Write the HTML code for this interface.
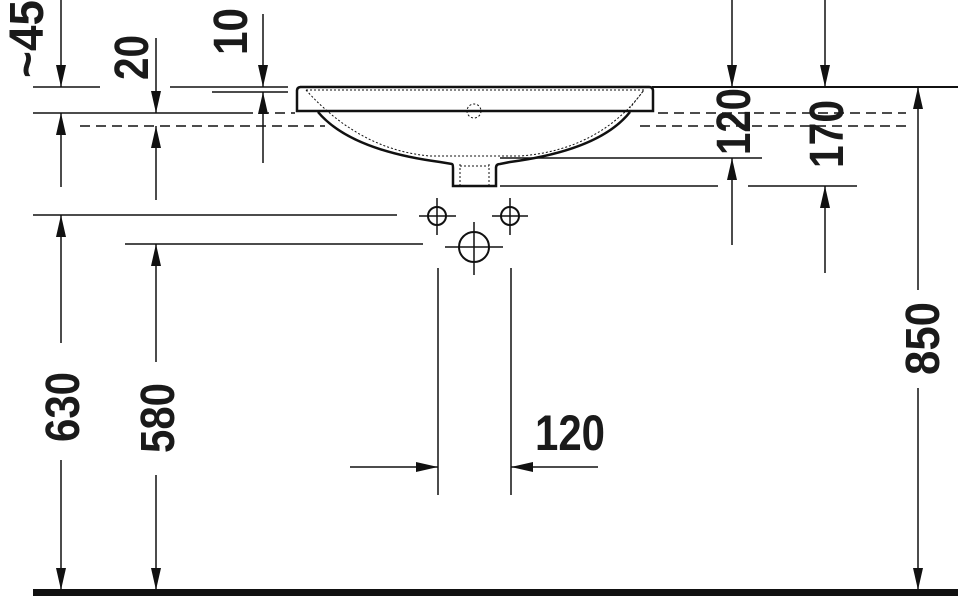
<!DOCTYPE html>
<html><head><meta charset="utf-8"><style>
html,body{margin:0;padding:0;background:#fff;}
svg{display:block}
text{font-family:"Liberation Sans",sans-serif;font-weight:bold;fill:#1a1a1a}
</style></head><body>
<svg width="958" height="596" viewBox="0 0 958 596" xmlns="http://www.w3.org/2000/svg">
<g stroke="#111" stroke-width="1.5" fill="none">
<!-- horizontal reference lines -->
<line x1="33" y1="87" x2="100" y2="87"/>
<line x1="170" y1="87" x2="288" y2="87"/>
<line x1="212" y1="92" x2="288" y2="92"/>
<line x1="652" y1="87" x2="958" y2="87" stroke-width="2"/>
<line x1="33" y1="113" x2="243" y2="113"/>
<line x1="243" y1="113" x2="295" y2="113" stroke-dasharray="10,6"/>
<line x1="80" y1="126" x2="325" y2="126" stroke-dasharray="10,6"/>
<line x1="658" y1="113" x2="906" y2="113" stroke-dasharray="10,6"/>
<line x1="640" y1="126" x2="906" y2="126" stroke-dasharray="10,6"/>
<line x1="500" y1="158" x2="762" y2="158"/>
<line x1="500" y1="186" x2="718" y2="186"/>
<line x1="748" y1="186" x2="857" y2="186"/>
<line x1="33" y1="215" x2="397" y2="215"/>
<line x1="125" y1="244" x2="423" y2="244"/>
<!-- basin -->
<path d="M300 87 H649 Q653 87 653 91 V111 H297 V91 Q297 87 301 87 Z" stroke-width="2.5"/>
<path d="M318 112 Q350 150 440 162 L452 164 Q453 164 453 168 V186 H496 V168 Q496 164 500 164 L510 162 Q600 150 630 112" stroke-width="2.5"/>
<path d="M306 90 H644 L630 108 M306 90 Q360 150 430 156 H520 Q600 150 644 90" stroke-width="1" stroke-dasharray="2,2"/>
<path d="M460 164 V186 M489 164 V186 M460 166 H489" stroke-width="1" stroke-dasharray="2,2"/>
<circle cx="474" cy="111" r="7" stroke-width="1" stroke-dasharray="2,2"/>
<!-- holes -->
<circle cx="437" cy="216" r="9" stroke-width="2"/>
<line x1="419" y1="216" x2="456" y2="216"/><line x1="437" y1="198" x2="437" y2="235"/>
<circle cx="510" cy="216" r="9" stroke-width="2"/>
<line x1="492" y1="216" x2="528" y2="216"/><line x1="510" y1="198" x2="510" y2="235"/>
<circle cx="474" cy="247" r="15" stroke-width="2"/>
<line x1="445" y1="247" x2="503" y2="247"/><line x1="474" y1="222" x2="474" y2="275"/>
<line x1="438" y1="268" x2="438" y2="495"/>
<line x1="511" y1="268" x2="511" y2="495"/>
<line x1="350" y1="467" x2="438" y2="467"/>
<line x1="511" y1="467" x2="598" y2="467"/>
<!-- verticals -->
<line x1="61" y1="0" x2="61" y2="87"/>
<line x1="61" y1="113" x2="61" y2="187"/>
<line x1="61" y1="215" x2="61" y2="343"/>
<line x1="61" y1="460" x2="61" y2="590"/>
<line x1="156" y1="38" x2="156" y2="113"/>
<line x1="156" y1="126" x2="156" y2="200"/>
<line x1="156" y1="244" x2="156" y2="362"/>
<line x1="156" y1="475" x2="156" y2="590"/>
<line x1="263" y1="14" x2="263" y2="87"/>
<line x1="263" y1="92" x2="263" y2="163"/>
<line x1="732" y1="0" x2="732" y2="87"/>
<line x1="732" y1="158" x2="732" y2="245"/>
<line x1="825" y1="0" x2="825" y2="87"/>
<line x1="825" y1="186" x2="825" y2="273"/>
<line x1="918" y1="87" x2="918" y2="290"/>
<line x1="918" y1="388" x2="918" y2="590"/>
</g>
<rect x="33" y="589" width="925" height="7" fill="#111"/>
<g fill="#111">
<!-- down arrows (tip at y) -->
<polygon points="56,65 66,65 61,87"/>
<polygon points="151,91 161,91 156,113"/>
<polygon points="258,65 268,65 263,87"/>
<polygon points="727,65 737,65 732,87"/>
<polygon points="820,65 830,65 825,87"/>
<polygon points="56,568 66,568 61,590"/>
<polygon points="151,568 161,568 156,590"/>
<polygon points="913,568 923,568 918,590"/>
<!-- up arrows -->
<polygon points="56,135 66,135 61,113"/>
<polygon points="151,148 161,148 156,126"/>
<polygon points="258,114 268,114 263,92"/>
<polygon points="727,180 737,180 732,158"/>
<polygon points="820,208 830,208 825,186"/>
<polygon points="56,237 66,237 61,215"/>
<polygon points="151,266 161,266 156,244"/>
<polygon points="913,109 923,109 918,87"/>
<!-- horizontal arrows -->
<polygon points="416,462 416,472 438,467"/>
<polygon points="533,462 533,472 511,467"/>
</g>
<text x="535" y="450" font-size="50" textLength="70" lengthAdjust="spacingAndGlyphs">120</text>
<text transform="translate(79,442) rotate(-90)" font-size="48" textLength="70" lengthAdjust="spacingAndGlyphs">630</text>
<text transform="translate(174,453) rotate(-90)" font-size="48" textLength="70" lengthAdjust="spacingAndGlyphs">580</text>
<text transform="translate(939,375) rotate(-90)" font-size="48" textLength="73" lengthAdjust="spacingAndGlyphs">850</text>
<text transform="translate(750,155) rotate(-90)" font-size="48" textLength="67" lengthAdjust="spacingAndGlyphs">120</text>
<text transform="translate(843,168) rotate(-90)" font-size="48" textLength="68" lengthAdjust="spacingAndGlyphs">170</text>
<text transform="translate(43,78) rotate(-90)" font-size="48" textLength="78" lengthAdjust="spacingAndGlyphs">~45</text>
<text transform="translate(148,80) rotate(-90)" font-size="48" textLength="45" lengthAdjust="spacingAndGlyphs">20</text>
<text transform="translate(247,55) rotate(-90)" font-size="48" textLength="47" lengthAdjust="spacingAndGlyphs">10</text>
</svg>
</body></html>
